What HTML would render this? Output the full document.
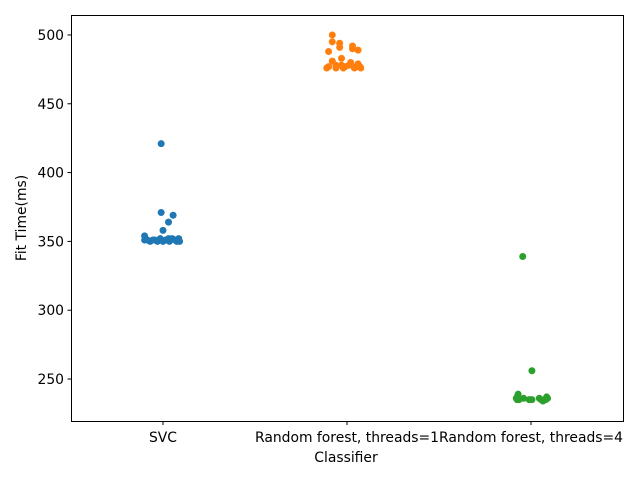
<!DOCTYPE html>
<html><head><meta charset="utf-8"><style>
body{margin:0;background:#fff;font-family:"DejaVu Sans",sans-serif}
</style></head><body>
<svg id="chart" width="640" height="480" xmlns="http://www.w3.org/2000/svg" font-family="DejaVu Sans, sans-serif" font-size="13.9">
<rect width="640" height="480" fill="#fff"/>
<g id="marks"></g>
<rect x="71.5" y="15.5" width="552" height="406" fill="none" stroke="#000" stroke-width="1"/>
<g id="axes"></g>
<text x="346" y="462" text-anchor="middle">Classifier</text>
<text transform="translate(26,218) rotate(-90)" text-anchor="middle">Fit Time(ms)</text>
</svg>
<script>
const categories=["SVC","Random forest, threads=1","Random forest, threads=4"];
const colors=["#1f77b4","#ff7f0e","#2ca02c"];
const yTicks=[250,300,350,400,450,500];
const svcValues=[421,371,369,364,358,354,351,350,351,350,352,350,351,350,352,351,350,352,350,351,352,351];
const svcJitter=[-0.01,-0.01,0.055,0.03,0,-0.1,-0.1,-0.07,-0.045,-0.03,-0.015,0,0.015,0.035,0.05,0.065,0.075,0.085,0.09,-0.055,0.03,-0.085];
const rf1Values=[500,495,494,491,492,490,489,488,483,481,480,479,478,477,476,476,477,478,476,477,476,478,477,476];
const rf1Jitter=[-0.08,-0.08,-0.04,-0.04,0.03,0.03,0.06,-0.1,-0.03,-0.08,0.02,0.06,-0.06,-0.1,-0.11,-0.06,-0.01,0.01,0.04,0.07,0.075,-0.03,0.05,-0.02];
const rf4Values=[339,256,239,237,236,235,236,235,235,236,234,235,236,237,235,235];
const rf4Jitter=[-0.045,0.005,-0.07,-0.075,-0.08,-0.065,-0.04,-0.01,0.005,0.045,0.065,0.08,0.09,0.085,0.055,-0.075];
const X0=71,X1=623,Y0=421,Y1=15,VMIN=219.5,VMAX=514.5;
const xs=c=>X0+(c+0.5)*(X1-X0)/3;
const ys=v=>Y0-(v-VMIN)*(Y0-Y1)/(VMAX-VMIN);
const NS="http://www.w3.org/2000/svg";
const marks=document.getElementById('marks'),axes=document.getElementById('axes');
[[svcValues,svcJitter],[rf1Values,rf1Jitter],[rf4Values,rf4Jitter]].forEach((s,ci)=>{
 s[0].forEach((v,i)=>{
  const c=document.createElementNS(NS,'circle');
  c.setAttribute('cx',xs(ci+s[1][i]));c.setAttribute('cy',ys(v));c.setAttribute('r',3.5);
  c.setAttribute('fill',colors[ci]);
  
  
  marks.appendChild(c);
 });
});
categories.forEach((t,i)=>{
 const x=xs(i);
 const l=document.createElementNS(NS,'line');
 l.setAttribute('x1',x);l.setAttribute('x2',x);l.setAttribute('y1',421.5);l.setAttribute('y2',425);l.setAttribute('stroke','#000');
 
 
 axes.appendChild(l);
 const tx=document.createElementNS(NS,'text');
 tx.setAttribute('x',x);tx.setAttribute('y',442);tx.setAttribute('text-anchor','middle');tx.textContent=t;
 
 
 axes.appendChild(tx);
});
yTicks.forEach(v=>{
 const y=ys(v);
 const l=document.createElementNS(NS,'line');
 l.setAttribute('x1',67.5);l.setAttribute('x2',71.5);l.setAttribute('y1',y);l.setAttribute('y2',y);l.setAttribute('stroke','#000');
 
 
 axes.appendChild(l);
 const tx=document.createElementNS(NS,'text');
 tx.setAttribute('x',64);tx.setAttribute('y',y+5);tx.setAttribute('text-anchor','end');tx.textContent=v;
 
 
 axes.appendChild(tx);
});
</script>
</body></html>
